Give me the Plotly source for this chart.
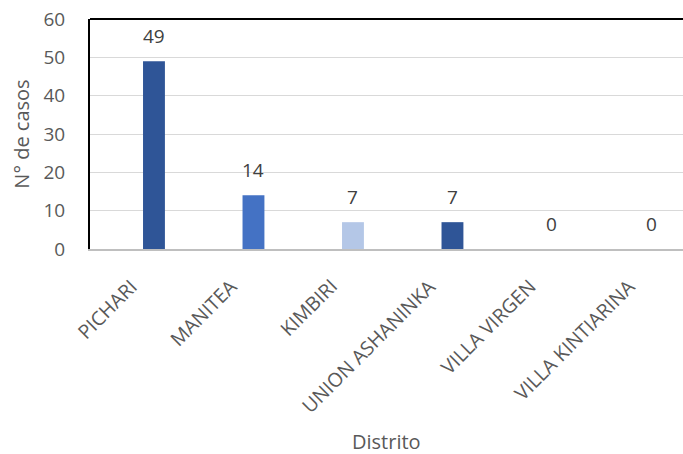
import plotly.graph_objects as go

distritos = ["PICHARI", "MANITEA", "KIMBIRI", "UNION ASHANINKA", "VILLA VIRGEN", "VILLA KINTIARINA"]
casos = [49, 14, 7, 7, 0, 0]
colores = ["#2F5597", "#4472C4", "#B4C7E7", "#2F5597", "#2F5597", "#2F5597"]

FONT = "Open Sans"
GRAY = "#595959"

fig = go.Figure()
fig.add_trace(go.Bar(
    x=distritos, y=casos, marker=dict(color=colores, line=dict(width=0)),
    width=0.22, hoverinfo="x+y",
))

# data labels
for d, v in zip(distritos, casos):
    fig.add_annotation(x=d, y=v, text=str(v), showarrow=False, yshift=25,
                       font=dict(family=FONT, size=19, color="#404040"))

# rotated category labels
for d in distritos:
    fig.add_annotation(x=d, y=0, text=d, showarrow=False, textangle=-45,
                       xanchor="right", yanchor="top", xshift=-8, yshift=-21,
                       font=dict(family=FONT, size=19.5, color=GRAY))

fig.add_annotation(xref="paper", yref="paper", x=0.5, y=0, text="Distrito",
                   showarrow=False, yanchor="middle", yshift=-192,
                   font=dict(family=FONT, size=20, color=GRAY))

fig.add_shape(type="line", xref="paper", yref="paper", x0=0, x1=1, y0=1, y1=1,
              line=dict(color="black", width=2))

fig.update_layout(
    width=683, height=454,
    margin=dict(l=90, r=0, t=19, b=205),
    plot_bgcolor="white", paper_bgcolor="white",
    showlegend=False,
    font=dict(family=FONT, color=GRAY),
    xaxis=dict(
        type="category", range=[-0.643, 5.317], automargin=False,
        showticklabels=False,
        showline=True, linecolor="#BFBFBF", linewidth=2,
        ticks="", showgrid=False,
    ),
    yaxis=dict(
        range=[0, 60], dtick=10, automargin=False,
        tickfont=dict(size=19, color=GRAY, family=FONT),
        ticklabeloverflow="allow",
        showline=True, linecolor="black", linewidth=2,
        showgrid=True, gridcolor="#D9D9D9", gridwidth=1,
        ticks="outside", ticklen=19, tickcolor="rgba(0,0,0,0)",
        zeroline=False,
        title=dict(text="N° de casos", font=dict(size=20, color=GRAY, family=FONT), standoff=8),
    ),
)

fig.write_html("out.html", config={"displayModeBar": False},
               post_script="document.body.style.margin='0';")
